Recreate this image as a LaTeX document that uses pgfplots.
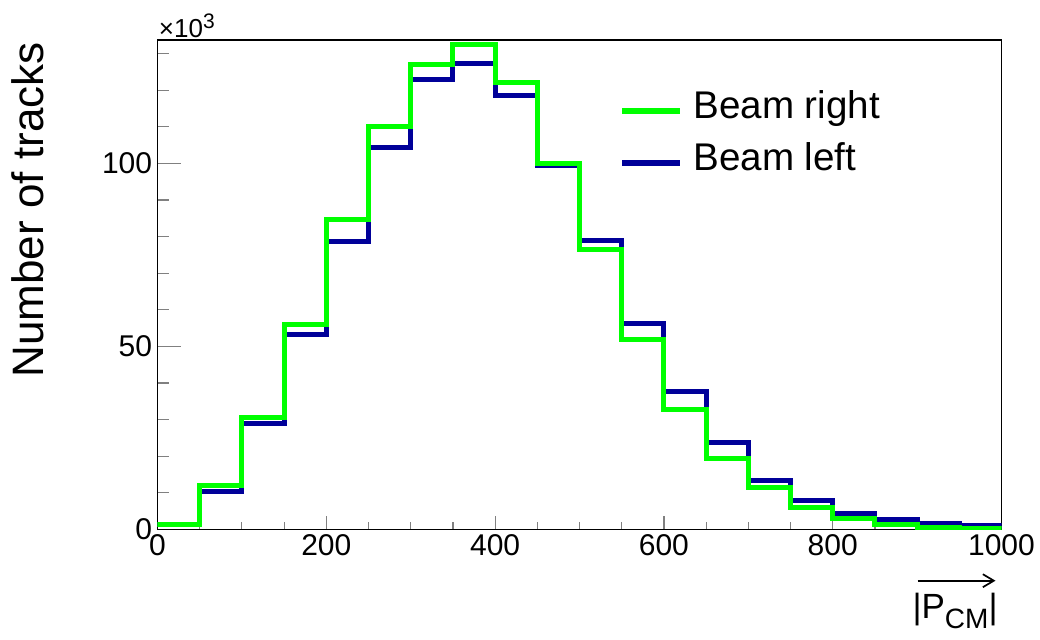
\documentclass[border=0pt]{standalone}
\usepackage{pgfplots}
\pgfplotsset{compat=1.18}
\usepackage{fontspec}
\setmainfont{Liberation Sans}
\usetikzlibrary{arrows.meta}
\definecolor{rootblue}{RGB}{0,0,153}
\definecolor{rootgreen}{RGB}{0,255,0}
\begin{document}
\begin{tikzpicture}
\begin{axis}[
  scale only axis,
  width=422pt, height=244.75pt,
  xmin=0, xmax=1000, ymin=0, ymax=133.7,
  axis line style={line width=0.8pt},
  tick pos=left, tick align=inside,
  xtick={0,200,...,1000}, minor xtick={50,100,...,950},
  ytick={0,50,100}, minor ytick={10,20,...,130},
  xtick style={line width=0.6pt,/pgfplots/major tick length=7pt,/pgfplots/minor tick length=3.8pt},
  ytick style={line width=0.6pt,/pgfplots/major tick length=12pt,/pgfplots/minor tick length=6pt},
  /pgf/number format/assume math mode=true,
  /pgf/number format/1000 sep={},
  ticklabel style={font=\fontsize{15}{18}\selectfont},
  xticklabel style={inner sep=2.5pt},
  yticklabel style={inner sep=2.5pt},
  scaled y ticks=false,
  legend image code/.code={\draw[#1] (0pt,-1.5pt) -- (29pt,-1.5pt);},
  legend style={at={(rel axis cs:0.5468,0.807)}, anchor=west, draw=none, fill=none,
    inner sep=0pt, font=\fontsize{19.3}{22}\selectfont, row sep=7.5pt,
    nodes={inner sep=0pt, text height=14.5pt, text depth=4pt},
    /tikz/every odd column/.append style={column sep=5pt}},
  legend cell align=left,
]
\addplot[const plot, color=rootblue, line width=2.5pt, forget plot] table {
x y
0 1.3
50 10.5
100 28.9
150 53.2
200 78.8
250 104.4
300 122.8
350 127.4
400 118.6
450 99.3
500 78.9
550 56.3
600 37.8
650 23.7
700 13.3
750 7.8
800 4.4
850 2.8
900 1.6
950 1.0
1000 1.0
};
\addplot[const plot, color=rootgreen, line width=2.5pt, forget plot] table {
x y
0 1.5
50 12.1
100 30.6
150 55.9
200 84.7
250 110.2
300 127.1
350 132.4
400 122.2
450 100.1
500 76.5
550 52.0
600 32.9
650 19.3
700 11.4
750 6.0
800 3.1
850 1.5
900 0.6
950 0.3
1000 0.3
};
\addlegendimage{color=rootgreen, line width=3pt}
\addlegendentry{Beam right}
\addlegendimage{color=rootblue, line width=3pt}
\addlegendentry{Beam left}
\coordinate (O) at (rel axis cs:0,0);
\end{axis}
\node[anchor=base west, inner sep=0pt, font=\fontsize{13}{14}\selectfont] at ([shift={(0.5pt,246.25pt)}]O) {×10\raisebox{4.5pt}{\fontsize{10.5}{11}\selectfont 3}};
\node[rotate=90, anchor=base east, inner sep=0pt, font=\fontsize{22}{26}\selectfont] at ([shift={(-56.75pt,243.75pt)}]O) {Number of tracks};
\node[anchor=base east, inner sep=0pt, font=\fontsize{17.5}{20}\selectfont] at ([shift={(420.25pt,-44.4pt)}]O) {|P\raisebox{-5pt}{\fontsize{14}{16}\selectfont CM}|};
\draw[line width=0.85pt, -{Straight Barb[length=5.5pt,width=6.5pt]}] ([shift={(380pt,-25.6pt)}]O) -- ([shift={(419pt,-25.6pt)}]O);
\pgfresetboundingbox
\path[use as bounding box] ([shift={(-78.75pt,-54.75pt)}]O) rectangle ([shift={(441.25pt,264.75pt)}]O);
\end{tikzpicture}
\end{document}
